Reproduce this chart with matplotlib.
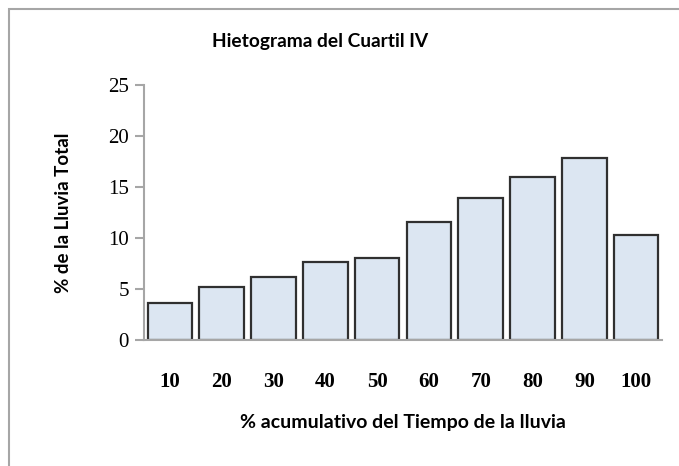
import matplotlib.pyplot as plt
import numpy as np
from matplotlib.patches import Rectangle

# percent of cumulative rain time vs percent of total rain
categories = ['10', '20', '30', '40', '50', '60', '70', '80', '90', '100']
rain_pct = [3.6, 5.2, 6.15, 7.6, 8.0, 11.6, 13.95, 15.95, 17.8, 10.25]

fig = plt.figure(figsize=(6.79, 4.66), dpi=100)
ax = fig.add_axes([0.2121, 0.2704, 0.7629, 0.5472])

x = np.arange(len(categories))
ax.bar(x, rain_pct, width=0.86, color='#dce6f2', edgecolor='#303030', linewidth=1.6)

ax.set_xlim(-0.5, len(categories) - 0.5)
ax.set_ylim(0, 25)
ax.set_yticks([0, 5, 10, 15, 20, 25])

for s in ['top', 'right']:
    ax.spines[s].set_visible(False)
for s in ['left', 'bottom']:
    ax.spines[s].set_color('#a6a6a6')
    ax.spines[s].set_linewidth(1.5)

ax.set_xticks(x)
ax.set_xticklabels(categories, family='Liberation Serif', fontsize=15, weight='bold')
ax.tick_params(axis='x', length=0, pad=23)
ax.tick_params(axis='y', length=6.5, width=1.5, color='#a6a6a6', pad=4.5,
               labelsize=15)
for t in ax.get_yticklabels():
    t.set_family('Liberation Serif')

ax.set_ylabel('% de la Lluvia Total', family='Lato', fontsize=13.5,
              weight='bold', labelpad=26)
ax.set_xlabel('% acumulativo del Tiempo de la lluvia', family='Lato',
              fontsize=14, weight='bold', labelpad=16)

fig.text(0.471, 0.91, 'Hietograma del Cuartil IV', family='Lato', fontsize=13.8,
         weight='bold', ha='center', va='center')

# chart border (cut off at right and bottom)
fig.patches.append(Rectangle((8.5 / 679, -0.1), 1.2, 1.1 - 8.5 / 466,
                             transform=fig.transFigure, fill=False,
                             edgecolor='#a6a6a6', linewidth=1.5))

fig.savefig('out.png', dpi=100)
